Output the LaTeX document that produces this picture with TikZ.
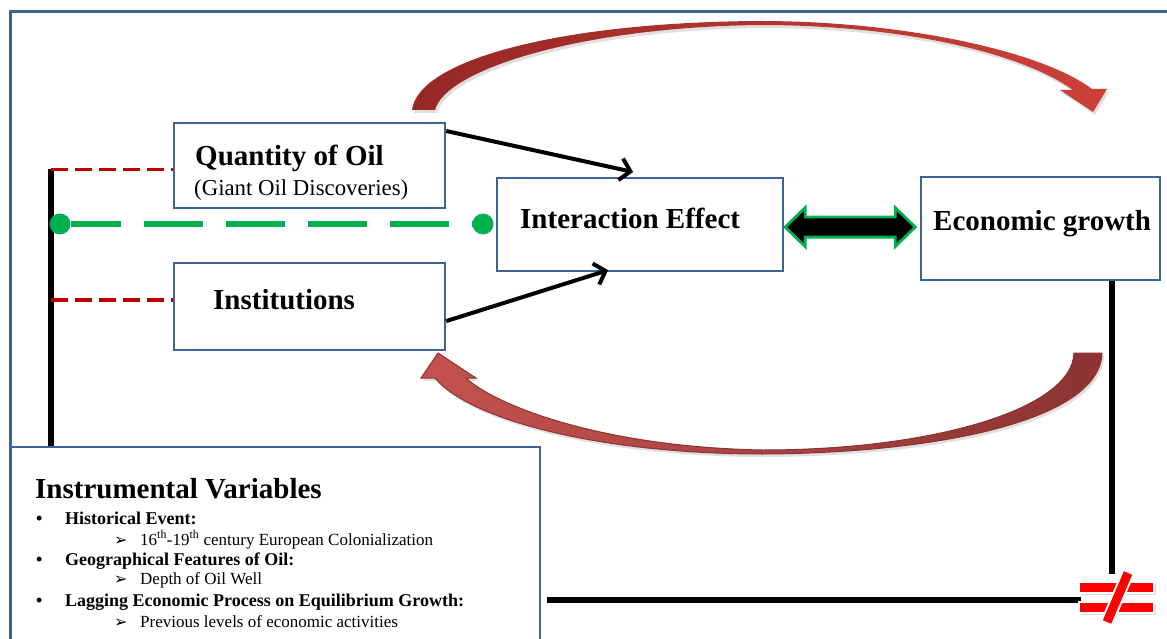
\documentclass[tikz,border=0pt]{standalone}
\usepackage{fontspec}
\setmainfont{Liberation Serif}
\newfontfamily\dingfont{DejaVu Sans}
\usepackage{tikz}
\usetikzlibrary{arrows.meta,calc,shadows}
\definecolor{frameblue}{RGB}{62,100,150}
\definecolor{dashred}{RGB}{192,0,0}
\definecolor{dashgreen}{RGB}{0,176,80}
\definecolor{arcdark}{RGB}{150,40,38}
\definecolor{arclight}{RGB}{206,64,58}
\definecolor{loopdark}{RGB}{140,52,50}
\definecolor{looplight}{RGB}{196,82,78}
\definecolor{neqred}{RGB}{255,0,0}
\tikzset{% 
  var box/.style={%
    draw=frameblue,
    line width=2.2pt,
    fill=white,
    inner sep=0pt,
    anchor=north west
  }
}
\tikzset{% 
  box title/.style={%
    anchor=base west,
    inner sep=0pt,
    font=\fontsize{29}{34}\selectfont\bfseries
  }
}
\tikzset{% 
  item text/.style={%
    anchor=base west,
    inner sep=0pt,
    font=\fontsize{18}{21}\selectfont\bfseries
  },
  sub text/.style={%
    anchor=base west,
    inner sep=0pt,
    font=\fontsize{17}{20}\selectfont
  },
  sub mark/.style={%
    anchor=base west,
    inner sep=0pt,
    font=\dingfont\fontsize{16}{18}\selectfont
  }
}
\tikzset{% 
  influence/.style={%
    line width=4pt,
    -{Straight Barb[length=10pt,width=22pt]}
  }
}
\tikzset{% 
  link line/.style={%
    line width=6.5pt,
    black
  },
  red link/.style={%
    dashred,
    line width=3.5pt,
    dash pattern=on 17pt off 7pt
  },
  green link/.style={%
    dashgreen,
    line width=6pt,
    dash pattern=on 59pt off 23pt,
    dash phase=9pt
  },
  green dot/.style={%
    circle,
    fill=dashgreen,
    minimum size=21pt,
    inner sep=0pt
  },
  both ways/.style={%
    fill=black,
    draw=dashgreen,
    line width=2.8pt,
    line join=miter
  },
  neq bar/.style={%
    fill=neqred,
    draw=white,
    line width=2.5pt,
    drop shadow={opacity=0.3,shadow xshift=2pt,shadow yshift=-2pt}
  }
}

\begin{document}
\begin{tikzpicture}[x=1pt,y=-1pt]
  \useasboundingbox (0,0) rectangle (1167,639);
  % outer frame
  \draw[frameblue, line width=3pt] (10,660) -- (10,11.5) -- (1180,11.5);

  % feedback arcs
  \path[drop shadow={opacity=0.25,shadow xshift=2pt,shadow yshift=-3pt},
    left color=arcdark, right color=arclight]
    (412,110) .. controls (418,60) and (560,22) .. (760,21)
    .. controls (900,21) and (1040,50) .. (1092,89)
    -- (1107,89) -- (1093,112) -- (1060,90) -- (1073,90)
    .. controls (1020,52) and (900,25) .. (760,25)
    .. controls (580,27) and (445,70) .. (435,110) -- cycle;
  \path[drop shadow={opacity=0.25,shadow xshift=2pt,shadow yshift=-3pt},
    left color=looplight, right color=loopdark, draw=loopdark, line width=1pt]
    (1102,353) .. controls (1100,420) and (940,453) .. (763,454)
    .. controls (600,454) and (470,420) .. (435,378)
    -- (421,378) -- (438,353) -- (476,378) -- (466,378)
    .. controls (495,405) and (600,447) .. (763,450)
    .. controls (930,450) and (1072,410) .. (1074,353) -- cycle;

  % boxes
  \node[var box, minimum width=271, minimum height=85] (qty) at (173,122) {};
  \node[var box, minimum width=271, minimum height=87] (inst) at (173,262) {};
  \node[var box, minimum width=286, minimum height=93] (inter) at (496,177) {};
  \node[var box, minimum width=239, minimum height=103] (econ) at (920,176) {};

  \node[box title] (qtytitle) at (195,166) {Quantity of Oil};
  \node[anchor=base west, inner sep=0pt, font=\fontsize{22.8}{26}\selectfont]
    (qtysub) at (194,196) {(Giant Oil Discoveries)};
  \node[box title] (insttitle) at (213,309) {Institutions};
  \node[box title] (intertitle) at (520,229) {Interaction Effect};
  \node[box title] (econtitle) at (933,230) {Economic growth};

  % links
  \coordinate (redtop) at (51,169.5);
  \coordinate (redlow) at (51,300);
  \coordinate (neqtop) at (1112,574);
  \coordinate (neqleft) at (1081,600);
  \coordinate (neq) at (1116.5,597.5);

  \node[var box, minimum width=529, minimum height=230] (instr) at (10,446) {};
  \draw[link line] (redtop) -- (redtop |- instr.north);
  \draw[red link] (redtop) -- (redtop -| qty.west);
  \draw[red link] (redlow) -- (redlow -| inst.west);

  \node[green dot] (gleft) at (60,224) {};
  \node[green dot] (gright) at (483,224) {};
  \draw[green link] (gleft) -- (gright);

  \draw[influence] ($(qty.north east)+(0,9)$) -- ($(inter.north)+(-7,-5)$);
  \draw[influence] ($(inst.east)+(0,14.5)$) -- ($(inter.south)+(-32,-2)$);

  \draw[both ways] ($(inter.east)+(1,2.5)$) -- ++(20,-19.5) -- ++(0,9.5)
    -- ++(90,0) -- ++(0,-9.5) -- ++(20,19.5) -- ++(-20,19.5) -- ++(0,-9.5)
    -- ++(-90,0) -- ++(0,9.5) -- cycle;

  \draw[link line] (neqtop |- econ.south) -- (neqtop);
  \draw[link line, shorten <=6pt] (neqleft -| instr.east) -- (neqleft);

  % not equal sign
  \path[neq bar] ($(neq)+(-37.5,-15.5)$) rectangle ++(75,11);
  \path[neq bar] ($(neq)+(-37.5,4.5)$) rectangle ++(75,11);
  \draw[white, line width=13pt] ($(neq)+(12,-26)$) -- ($(neq)+(-10,26)$);
  \draw[neqred, line width=9pt] ($(neq)+(11.5,-24.5)$) -- ($(neq)+(-9.5,24.5)$);

  % instrumental variables
  \node[box title] (ivtitle) at (35,498) {Instrumental Variables};
  \node[item text] (b1) at (36,524) {\textbullet};
  \node[item text] (hist) at (65,524) {Historical Event:};
  \node[sub mark] (a1) at (114,545) {➢};
  \node[sub text] (colon) at (140,545) {16\textsuperscript{th}-19\textsuperscript{th} century European Colonialization};
  \node[item text] (b2) at (36,565) {\textbullet};
  \node[item text] (geo) at (65,565) {Geographical Features of Oil:};
  \node[sub mark] (a2) at (114,584) {➢};
  \node[sub text] (depth) at (140,584) {Depth of Oil Well};
  \node[item text] (b3) at (36,606) {\textbullet};
  \node[item text] (lag) at (65,606) {Lagging Economic Process on Equilibrium Growth:};
  \node[sub mark] (a3) at (114,627) {➢};
  \node[sub text] (prev) at (140,627) {Previous levels of economic activities};
\end{tikzpicture}
\end{document}
